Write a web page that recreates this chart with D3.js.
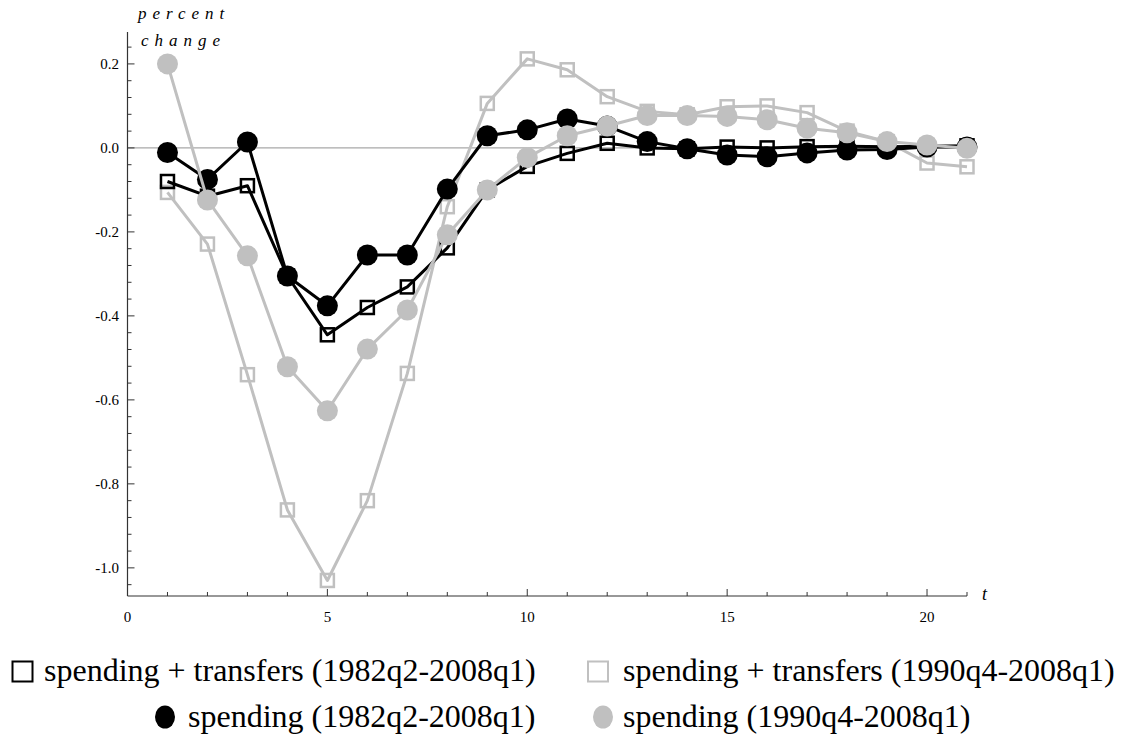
<!DOCTYPE html>
<html>
<head>
<meta charset="utf-8">
<script src="https://cdn.jsdelivr.net/npm/d3@7"></script>
<style>
  body { margin: 0; background: #fff; }
  text { font-family: "Liberation Serif", "Times New Roman", serif; fill: #000; }
</style>
</head>
<body>
<svg id="chart" width="1123" height="749"></svg>
<script>
// quarters after the shock
var periods = d3.range(1, 22);

// responses, percent change
var spendTransfers82 = [-0.080, -0.115, -0.090, -0.305, -0.445, -0.380, -0.331, -0.238, -0.100, -0.044,
  -0.013, 0.011, 0.000, -0.002, 0.002, 0.000, 0.003, 0.004, 0.003, 0.004, 0.005];
var spendTransfers90 = [-0.106, -0.229, -0.540, -0.862, -1.030, -0.840, -0.537, -0.140, 0.106, 0.212,
  0.186, 0.122, 0.087, 0.079, 0.098, 0.100, 0.084, 0.040, 0.015, -0.036, -0.045];
var spending82 = [-0.011, -0.075, 0.014, -0.305, -0.376, -0.255, -0.255, -0.098, 0.029, 0.043,
  0.069, 0.052, 0.015, -0.002, -0.017, -0.021, -0.012, -0.005, -0.004, 0.002, 0.002];
var spending90 = [0.200, -0.124, -0.257, -0.521, -0.626, -0.479, -0.386, -0.207, -0.100, -0.023,
  0.029, 0.052, 0.077, 0.077, 0.075, 0.067, 0.047, 0.036, 0.015, 0.007, -0.001];

var yTickLabels = ["-1.0", "-0.8", "-0.6", "-0.4", "-0.2", "0.0", "0.2"];
var xTickLabels = ["0", "5", "10", "15", "20"];

var series = [
  { name: "spending + transfers (1990q4-2008q1)", values: spendTransfers90, color: "#c0c0c0", shape: "square" },
  { name: "spending + transfers (1982q2-2008q1)", values: spendTransfers82, color: "#000000", shape: "square" },
  { name: "spending (1982q2-2008q1)", values: spending82, color: "#000000", shape: "circle" },
  { name: "spending (1990q4-2008q1)", values: spending90, color: "#c0c0c0", shape: "circle" }
];

var svg = d3.select("#chart");

var x = d3.scaleLinear().domain([0, 21]).range([127.5, 967]);
var y = d3.scaleLinear().domain([-1.067, 0.276]).range([596, 32]);

var axisColor = "#333";

// zero line
svg.append("line")
  .attr("x1", x(0)).attr("x2", x(21))
  .attr("y1", y(0)).attr("y2", y(0))
  .attr("stroke", "#a8a8a8").attr("stroke-width", 1.3);

// axes with inward ticks
var yAxis = svg.append("g");
yAxis.append("line")
  .attr("x1", x(0)).attr("x2", x(0))
  .attr("y1", y.range()[0]).attr("y2", y.range()[1])
  .attr("stroke", axisColor).attr("stroke-width", 1.2);
var yMinor = d3.range(-1.04, 0.27, 0.04);
yAxis.selectAll(".ytick").data(yMinor).enter().append("line")
  .attr("x1", x(0)).attr("x2", function(d) {
    return x(0) + (Math.abs(Math.round(d * 100) % 20) === 0 ? 7 : 4);
  })
  .attr("y1", function(d) { return y(d); })
  .attr("y2", function(d) { return y(d); })
  .attr("stroke", axisColor).attr("stroke-width", 1);
yAxis.selectAll(".ylab").data(yTickLabels).enter().append("text")
  .attr("x", 119)
  .attr("y", function(d) { return y(+d) + 5; })
  .attr("text-anchor", "end")
  .attr("font-size", 15)
  .text(function(d) { return d; });

var xAxis = svg.append("g");
xAxis.append("line")
  .attr("x1", x(0)).attr("x2", x(21))
  .attr("y1", y.range()[0]).attr("y2", y.range()[0])
  .attr("stroke", axisColor).attr("stroke-width", 1.2);
xAxis.selectAll(".xtick").data(d3.range(1, 22)).enter().append("line")
  .attr("x1", function(d) { return x(d); })
  .attr("x2", function(d) { return x(d); })
  .attr("y1", y.range()[0])
  .attr("y2", function(d) { return y.range()[0] - (d % 5 === 0 ? 7 : 4); })
  .attr("stroke", axisColor).attr("stroke-width", 1);
xAxis.selectAll(".xlab").data(xTickLabels).enter().append("text")
  .attr("x", function(d) { return x(+d); })
  .attr("y", 622)
  .attr("text-anchor", "middle")
  .attr("font-size", 15)
  .text(function(d) { return d; });

// axis titles
svg.append("text").attr("x", 138).attr("y", 19)
  .attr("font-size", 17).attr("font-style", "italic").attr("letter-spacing", 6)
  .text("percent");
svg.append("text").attr("x", 141).attr("y", 46)
  .attr("font-size", 17).attr("font-style", "italic").attr("letter-spacing", 6)
  .text("change");
svg.append("text").attr("x", 982).attr("y", 600)
  .attr("font-size", 18).attr("font-style", "italic")
  .text("t");

// series
var line = d3.line()
  .x(function(d, i) { return x(periods[i]); })
  .y(function(d) { return y(d); });

series.forEach(function(s) {
  var g = svg.append("g");
  g.append("path")
    .attr("d", line(s.values))
    .attr("fill", "none")
    .attr("stroke", s.color)
    .attr("stroke-width", 3)
    .attr("stroke-linejoin", "round");
  if (s.shape === "circle") {
    g.selectAll("circle").data(s.values).enter().append("circle")
      .attr("cx", function(d, i) { return x(periods[i]); })
      .attr("cy", function(d) { return y(d); })
      .attr("r", 10.5)
      .attr("fill", s.color);
  } else {
    g.selectAll("rect").data(s.values).enter().append("rect")
      .attr("x", function(d, i) { return x(periods[i]) - 6.5; })
      .attr("y", function(d) { return y(d) - 6.5; })
      .attr("width", 13).attr("height", 13)
      .attr("fill", "none")
      .attr("stroke", s.color)
      .attr("stroke-width", 2.5);
  }
});

// legend
var legendItems = [
  { s: series[1], mx: 22.5, my: 671.5, tx: 44, ty: 681 },
  { s: series[0], mx: 598, my: 671.5, tx: 623, ty: 681 },
  { s: series[2], mx: 165, my: 717, tx: 188, ty: 727 },
  { s: series[3], mx: 603, my: 717, tx: 623, ty: 727 }
];
legendItems.forEach(function(it) {
  if (it.s.shape === "square") {
    svg.append("rect")
      .attr("x", it.mx - 10).attr("y", it.my - 10)
      .attr("width", 20).attr("height", 20)
      .attr("fill", "none").attr("stroke", it.s.color).attr("stroke-width", 2);
  } else {
    svg.append("ellipse")
      .attr("cx", it.mx).attr("cy", it.my)
      .attr("rx", 10).attr("ry", 11.5)
      .attr("fill", it.s.color);
  }
  svg.append("text")
    .attr("x", it.tx).attr("y", it.ty)
    .attr("font-size", 32)
    .text(it.s.name);
});
</script>
</body>
</html>
